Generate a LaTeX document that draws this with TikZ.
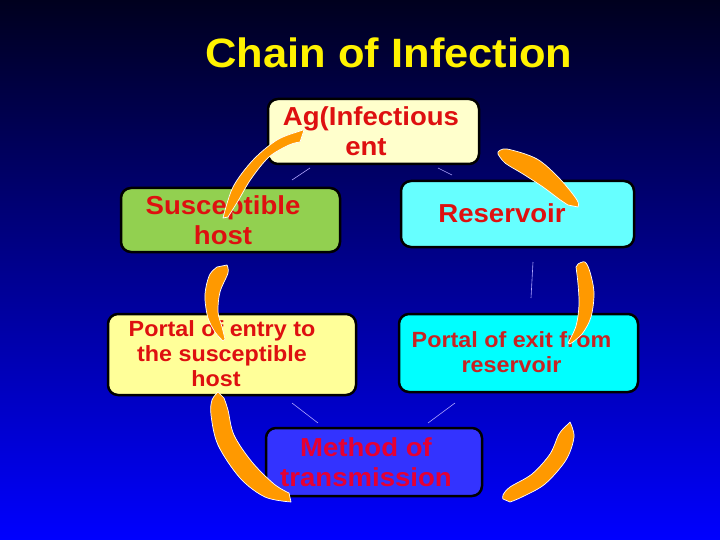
\documentclass[tikz,border=0pt]{standalone}
\usepackage{fontspec}
\setmainfont{Liberation Sans}
\newfontfamily\sansb[FakeStretch=1.06]{Liberation Sans}
\definecolor{bgtop}{RGB}{0,0,30}
\definecolor{bgmid}{RGB}{0,0,190}
\definecolor{bgbot}{RGB}{0,0,255}
\definecolor{agfill}{RGB}{255,255,204}
\definecolor{susfill}{RGB}{146,208,80}
\definecolor{resfill}{RGB}{102,255,255}
\definecolor{entfill}{RGB}{255,255,153}
\definecolor{exitfill}{RGB}{0,255,255}
\definecolor{methfill}{RGB}{51,51,255}
\definecolor{txtred}{RGB}{222,16,16}
\definecolor{txtdark}{RGB}{200,34,34}
\definecolor{txtcrim}{RGB}{230,0,50}
\definecolor{arcorange}{RGB}{255,153,0}
\definecolor{thincol}{RGB}{175,165,255}
\begin{document}
\begin{tikzpicture}[x=1pt,y=-1pt,
  box/.style={draw=black, line width=2.5pt, rounded corners=10pt, inner sep=0pt},
  lbl/.style={font=\sansb\bfseries\fontsize{26}{30}\selectfont, align=center, inner sep=0pt},
  lbls/.style={font=\sansb\bfseries\fontsize{22}{25}\selectfont, align=center, inner sep=0pt},
  arcshape/.style={fill=arcorange, draw=white, line width=0.7pt, line join=round},
  thinline/.style={draw=thincol, line width=0.6pt}]
\useasboundingbox (0,0) rectangle (720,540);
\shade[top color=bgtop, middle color=bgmid, bottom color=bgbot] (0,0) rectangle (720,540);

% title
\node[font=\sansb\bfseries\fontsize{41}{48}\selectfont, text=yellow, inner sep=0pt] (title) at (389,53) {Chain of Infection};

% faint connector remnants (behind boxes)
\coordinate (t1a) at (310,168); \coordinate (t1b) at (292,180);
\coordinate (t2a) at (438,168); \coordinate (t2b) at (452,175);
\coordinate (t3a) at (533,262); \coordinate (t3b) at (531,298);
\coordinate (t4a) at (292,403); \coordinate (t4b) at (318,423);
\coordinate (t5a) at (455,403); \coordinate (t5b) at (428,423);
\draw[thinline] (t1a) -- (t1b);
\draw[thinline] (t2a) -- (t2b);
\draw[thinline] (t3a) -- (t3b);
\draw[thinline] (t4a) -- (t4b);
\draw[thinline] (t5a) -- (t5b);

% boxes
\node[box, fill=agfill, minimum width=211pt, minimum height=65pt] (ag) at (373.5,131.5) {};
\node[box, fill=susfill, minimum width=219pt, minimum height=64pt] (sus) at (230.5,220) {};
\node[box, fill=resfill, minimum width=233pt, minimum height=66pt] (res) at (517.5,214) {};
\node[box, fill=entfill, minimum width=248pt, minimum height=81pt] (ent) at (232,354.5) {};
\node[box, fill=exitfill, minimum width=239pt, minimum height=78pt] (exit) at (518.5,353) {};
\node[box, fill=methfill, minimum width=216pt, minimum height=68pt] (meth) at (374,462) {};

% texts
\node[lbl, text=txtred] (agt) at (371,131) {Ag(Infectious\\ent\hspace*{10pt}};
\node[lbl, text=txtred] (sust) at (223,220) {Susceptible\\host};
\node[lbl, text=txtred] (rest) at (502,213.5) {Reservoir};
\node[lbls, text=txtred] (entt) at (222,354) {Portal of entry to\\the susceptible\\host\hspace*{12pt}};
\node[lbls, text=txtdark] (exitt) at (511.5,352.5) {Portal of exit from\\reservoir};
\node[lbl, text=txtcrim] (metht) at (366,462.5) {Method of\\transmission};

% orange arcs
\filldraw[arcshape] plot[smooth, tension=0.55] coordinates {(223,218) (233,187) (253,160) (277,140) (300,131) (304,130)}
  -- plot[smooth, tension=0.55] coordinates {(300,142) (289,145) (269,157) (251,179) (238,201) (228,217)} -- cycle;
\filldraw[arcshape] plot[smooth, tension=0.55] coordinates {(498,152) (507,149) (537,159) (560,179) (577,200) (578,207)}
  -- plot[smooth, tension=0.55] coordinates {(568,205) (559,199) (543,187) (523,174) (505,163) (498,154)} -- cycle;
\filldraw[arcshape] plot[smooth, tension=0.55] coordinates {(578,264) (585,262) (590,272) (594,293) (591,317) (582,334) (570,344)}
  -- plot[smooth, tension=0.55] coordinates {(568,343) (576,326) (579,305) (578,284) (576,267)} -- cycle;
\filldraw[arcshape] plot[smooth, tension=0.55] coordinates {(570,422) (574,437) (566,460) (545,484) (522,497) (510,502)}
  -- plot[smooth, tension=0.55] coordinates {(503,499) (503,495) (510,487) (532,474) (550,454) (559,434) (567,425)} -- cycle;
\filldraw[arcshape] plot[smooth, tension=0.55] coordinates {(218,392) (212,400) (211,415) (218,445) (240,478) (265,497) (291,502)}
  -- plot[smooth, tension=0.55] coordinates {(289,493) (274,484) (252,462) (234,435) (228,410) (224,398)} -- cycle;
\filldraw[arcshape] plot[smooth, tension=0.55] coordinates {(227,265) (228,273) (220,292) (218,312) (222,327) (225,339)}
  -- plot[smooth, tension=0.55] coordinates {(223,341) (215,332) (208,318) (205,300) (206,287) (210,274) (217,267)} -- cycle;
\end{tikzpicture}
\end{document}
